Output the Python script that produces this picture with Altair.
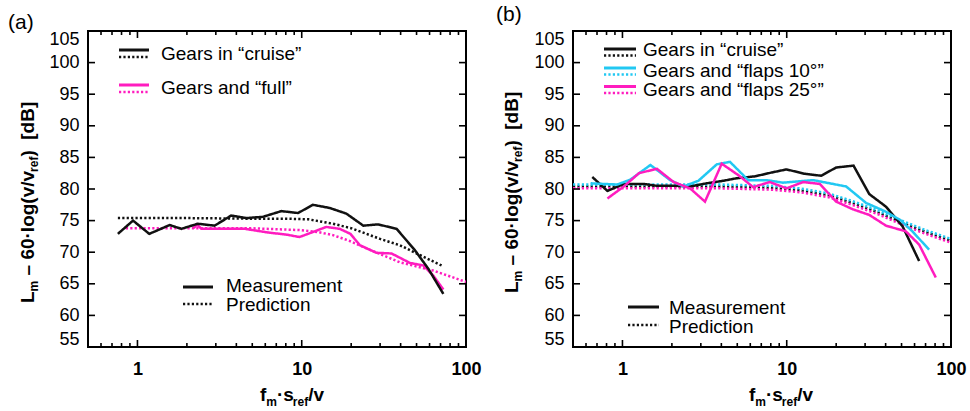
import altair as alt
import pandas as pd

# ---------------- data ----------------
# Panel (a)
a_cruise_meas_f = [0.76, 0.94, 1.18, 1.57, 1.85, 2.33, 2.95, 3.72, 4.6, 5.81, 7.52, 9.5, 11.7, 14.8, 18.7, 23.7, 29.2, 37.8, 48.9, 58.9, 72.8]
a_cruise_meas_L = [72.9, 75.0, 72.9, 74.3, 73.7, 74.5, 74.2, 75.8, 75.4, 75.6, 76.5, 76.2, 77.5, 77.0, 76.1, 74.2, 74.4, 73.7, 70.3, 67.4, 63.4]
a_cruise_pred_f = [0.76, 1, 2, 5, 8, 11, 15.5, 20, 24.8, 30, 39.6, 50, 71]
a_cruise_pred_L = [75.4, 75.4, 75.4, 75.3, 75.3, 75.2, 74.5, 73.8, 72.9, 72.1, 71.1, 69.8, 67.9]
a_full_meas_f = [2.2, 2.3, 2.45, 3.2, 4.5, 6.3, 8.0, 9.7, 12.0, 14.1, 17.0, 19.8, 22.6, 28.5, 35.2, 45.6, 55.0, 63.2, 72.8]
a_full_meas_L = [73.8, 74.4, 73.7, 73.7, 73.7, 73.1, 72.8, 72.4, 73.3, 74.0, 73.7, 72.9, 71.1, 69.9, 69.8, 68.3, 67.9, 66.3, 64.1]
a_full_pred_f = [0.85, 1, 2, 4.8, 9.7, 12.5, 15.5, 19.5, 24.8, 39.6, 63, 100]
a_full_pred_L = [73.8, 73.8, 73.8, 73.8, 73.5, 73.2, 72.7, 71.8, 70.6, 68.4, 67.1, 65.3]

# Panel (b)
b_cruise_meas_f = [0.655, 0.81, 1.02, 1.35, 1.62, 2.15, 2.58, 3.26, 4.11, 4.95, 6.4, 8.07, 9.96, 12.9, 16.2, 20.0, 25.5, 31.8, 40.2, 50.7, 64.0]
b_cruise_meas_L = [81.9, 79.7, 80.8, 80.8, 80.5, 80.5, 80.4, 80.9, 81.3, 81.7, 82.0, 82.6, 83.1, 82.4, 82.1, 83.4, 83.7, 79.2, 77.2, 74.1, 68.6]
b_flaps10_meas_f = [0.64, 0.93, 1.12, 1.48, 1.95, 2.35, 2.9, 3.75, 4.51, 5.83, 7.53, 9.5, 14.5, 23.0, 30.4, 40.2, 49.1, 58.2, 73.6]
b_flaps10_meas_L = [80.9, 80.7, 81.5, 83.8, 81.4, 80.4, 81.3, 83.9, 84.3, 81.4, 81.4, 81.0, 81.4, 80.4, 77.8, 76.4, 75.1, 73.3, 70.4]
b_flaps25_meas_f = [0.81, 1.02, 1.26, 1.62, 2.05, 2.58, 3.18, 4.02, 5.07, 6.25, 7.88, 9.96, 12.6, 15.9, 20.0, 25.2, 31.8, 40.2, 53.1, 64.0, 80.8]
b_flaps25_meas_L = [78.5, 80.4, 82.5, 83.2, 81.1, 80.1, 78.0, 84.0, 82.2, 80.3, 81.1, 80.1, 81.1, 80.8, 78.0, 76.8, 75.9, 74.2, 73.3, 71.2, 66.0]
b_pred_f = [0.5, 1, 2, 4, 8, 12, 18, 25, 36, 50, 70, 100]
b_cruise_pred_L = [80.4, 80.4, 80.4, 80.4, 80.2, 79.8, 79.0, 77.8, 76.3, 74.7, 73.2, 71.8]
b_flaps10_pred_L = [80.7, 80.7, 80.7, 80.7, 80.5, 80.1, 79.3, 78.1, 76.6, 75.0, 73.5, 72.1]
b_flaps25_pred_L = [80.1, 80.1, 80.1, 80.1, 79.9, 79.5, 78.7, 77.5, 76.0, 74.4, 72.9, 71.5]

# axis tick values / labels
y_tick_values = [55, 60, 65, 70, 75, 80, 85, 90, 95, 100, 105]
x_label_values = [1, 10, 100]
x_minor_values = [0.6, 0.7, 0.8, 0.9, 2, 3, 4, 5, 6, 7, 8, 9, 20, 30, 40, 50, 60, 70, 80, 90]

# legend texts
a_legend = ["Gears in \u201ccruise\u201d", "Gears and \u201cfull\u201d"]
b_legend = ["Gears in \u201ccruise\u201d", "Gears and \u201cflaps 10\u00b0\u201d", "Gears and \u201cflaps 25\u00b0\u201d"]
kind_legend = ["Measurement", "Prediction"]

# ---------------- styling ----------------
FONT = "Liberation Sans"
W, H = 378, 316
BLACK, PINK, CYAN = "#111111", "#ff1cbf", "#22c8f2"
DOT = [2.2, 2.2]

xs = alt.Scale(type="log", domain=[0.5, 100], nice=False)
ys = alt.Scale(domain=[55, 105], nice=False, zero=False)
x_axis = alt.Axis(values=x_label_values, format="~g", title=None, labelFontWeight="bold",
                  labelPadding=13, labelFontSize=18, labelFont=FONT, labelColor="black",
                  ticks=False, tickSize=0, domain=False, grid=False, labelFlush=False)
y_axis = alt.Axis(values=y_tick_values, title=None, labelPadding=9, labelFontSize=18,
                  labelFont=FONT, labelColor="black", ticks=False, tickSize=0,
                  domain=False, grid=False, labelFlush=True, labelFlushOffset=1)


def X(field):
    return alt.X(field, type="quantitative", scale=xs, axis=x_axis)


def Y(field):
    return alt.Y(field, type="quantitative", scale=ys, axis=y_axis)


EMPTY = alt.Data(values=[{}])

BOLD_W = {" ": 278, "(": 333, ")": 333, "\u2013": 556, "0": 556, "6": 556, "\u00b7": 278,
          "/": 278, "[": 333, "]": 333, "B": 722, "L": 611, "d": 611, "e": 556, "f": 333,
          "g": 611, "l": 278, "m": 889, "o": 611, "r": 389, "s": 556, "v": 556}


def tw(s, size):
    return sum(BOLD_W.get(c, 556) for c in s) / 1000.0 * size


def text(t, x, y, size=19, weight="normal", align="left", baseline="middle", angle=0):
    return alt.Chart(EMPTY).mark_text(text=t, font=FONT, fontSize=size, fontWeight=weight,
                                      align=align, baseline=baseline, angle=angle,
                                      color="black").encode(x=alt.value(x), y=alt.value(y))


def sample(x1, x2, y, color, dotted):
    kw = dict(color=color, strokeWidth=2.6 if dotted else 3)
    if dotted:
        kw["strokeDash"] = DOT
    return alt.Chart(EMPTY).mark_rule(**kw).encode(x=alt.value(x1), x2=alt.value(x2), y=alt.value(y))


def lines_layer(items):
    rows = []
    for s, k, fs, Ls in items:
        for f, L in zip(fs, Ls):
            rows.append({"f": f, "L": L, "s": s, "k": k, "g": s + "_" + k})
    df = pd.DataFrame(rows)
    return alt.Chart(df).mark_line(strokeWidth=2.5, clip=True).encode(
        x=X("f"), y=Y("L"),
        color=alt.Color("s:N", scale=alt.Scale(domain=["cruise", "full", "flaps10", "flaps25"],
                                               range=[BLACK, PINK, CYAN, PINK]), legend=None),
        strokeDash=alt.StrokeDash("k:N", scale=alt.Scale(domain=["meas", "pred"],
                                                         range=[[1, 0], DOT]), legend=None),
        detail="g:N",
    )


def tick_layers():
    yt = pd.DataFrame({"v": y_tick_values})
    xM = pd.DataFrame({"v": x_label_values[:-1]})
    xm = pd.DataFrame({"v": x_minor_values})
    r = dict(color="black", strokeWidth=1.6)
    return [
        alt.Chart(yt).mark_rule(**r).encode(y=Y("v"), x=alt.value(0), x2=alt.value(7)),
        alt.Chart(yt).mark_rule(**r).encode(y=Y("v"), x=alt.value(W - 7), x2=alt.value(W)),
        alt.Chart(xM).mark_rule(**r).encode(x=X("v"), y=alt.value(H - 7), y2=alt.value(H)),
        alt.Chart(xM).mark_rule(**r).encode(x=X("v"), y=alt.value(0), y2=alt.value(7)),
        alt.Chart(xm).mark_rule(**r).encode(x=X("v"), y=alt.value(H - 4), y2=alt.value(H)),
        alt.Chart(xm).mark_rule(**r).encode(x=X("v"), y=alt.value(0), y2=alt.value(4)),
    ]


def y_title(x0, y0):
    out = []
    y = y0
    main, sub = 19, 12
    segs = [("L", main, 0), ("m", sub, 4), (None, tw(" ", main), 0), ("\u2013 60\u00b7log(v/v", main, 0),
            ("ref", sub, 4), (")", main, 0), (None, 2 * tw(" ", main), 0), ("[dB]", main, 0)]
    for t, size, off in segs:
        if t is None:
            y -= size
            continue
        out.append(text(t, x0 + off, y, size=size, weight="bold", baseline="alphabetic", angle=270))
        y -= tw(t, size)
    return out


def x_title(x0, y0):
    out = []
    x = x0
    main, sub = 19, 12
    segs = [("f", main, 0), ("m", sub, 5), ("\u00b7s", main, 0), ("ref", sub, 5), ("/v", main, 0)]
    for t, size, off in segs:
        out.append(text(t, x, y0 + off, size=size, weight="bold", baseline="alphabetic"))
        x += tw(t, size)
    return out


# ---------------- panel (a) ----------------
a_lines = lines_layer([
    ("cruise", "pred", a_cruise_pred_f, a_cruise_pred_L),
    ("full", "pred", a_full_pred_f, a_full_pred_L),
    ("full", "meas", a_full_meas_f, a_full_meas_L),
    ("cruise", "meas", a_cruise_meas_f, a_cruise_meas_L),
])
a_deco = [
    text("(a)", -80, -2, size=21, baseline="alphabetic"),
    sample(31, 61, 19, BLACK, False), sample(31, 61, 26, BLACK, True),
    text(a_legend[0], 73, 23),
    sample(31, 61, 54, PINK, False), sample(31, 61, 61, PINK, True),
    text(a_legend[1], 73, 57),
    sample(95, 125, 256, BLACK, False), text(kind_legend[0], 138, 255),
    sample(95, 125, 273, BLACK, True), text(kind_legend[1], 138, 274),
] + y_title(-54, 272) + x_title(172, 370)
panel_a = alt.layer(a_lines, *tick_layers(), *a_deco).properties(width=W, height=H)

# ---------------- panel (b) ----------------
b_lines = lines_layer([
    ("cruise", "pred", b_pred_f, b_cruise_pred_L),
    ("flaps10", "pred", b_pred_f, b_flaps10_pred_L),
    ("flaps25", "pred", b_pred_f, b_flaps25_pred_L),
    ("cruise", "meas", b_cruise_meas_f, b_cruise_meas_L),
    ("flaps10", "meas", b_flaps10_meas_f, b_flaps10_meas_L),
    ("flaps25", "meas", b_flaps25_meas_f, b_flaps25_meas_L),
])
b_deco = [
    text("(b)", -77, -10, size=21, baseline="alphabetic"),
    sample(31, 63, 18, BLACK, False), sample(31, 63, 24.5, BLACK, True),
    text(b_legend[0], 70, 19),
    sample(31, 63, 37, CYAN, False), sample(31, 63, 43.5, CYAN, True),
    text(b_legend[1], 70, 39.5),
    sample(31, 63, 55.5, PINK, False), sample(31, 63, 62, PINK, True),
    text(b_legend[2], 70, 59),
    sample(55, 86, 276, BLACK, False), text(kind_legend[0], 96, 277),
    sample(55, 86, 294, BLACK, True), text(kind_legend[1], 96, 296),
] + y_title(-55, 262) + x_title(176, 370)
panel_b = alt.layer(b_lines, *tick_layers(), *b_deco).properties(width=W, height=H)

chart = alt.hconcat(panel_a, panel_b, spacing=107, bounds="flush").properties(
    padding={"left": 7, "top": 3, "right": 0, "bottom": 0},
    background="white",
).configure_view(stroke="black", strokeWidth=2)

chart.save("out.html", embed_options={"renderer": "svg", "actions": False})
